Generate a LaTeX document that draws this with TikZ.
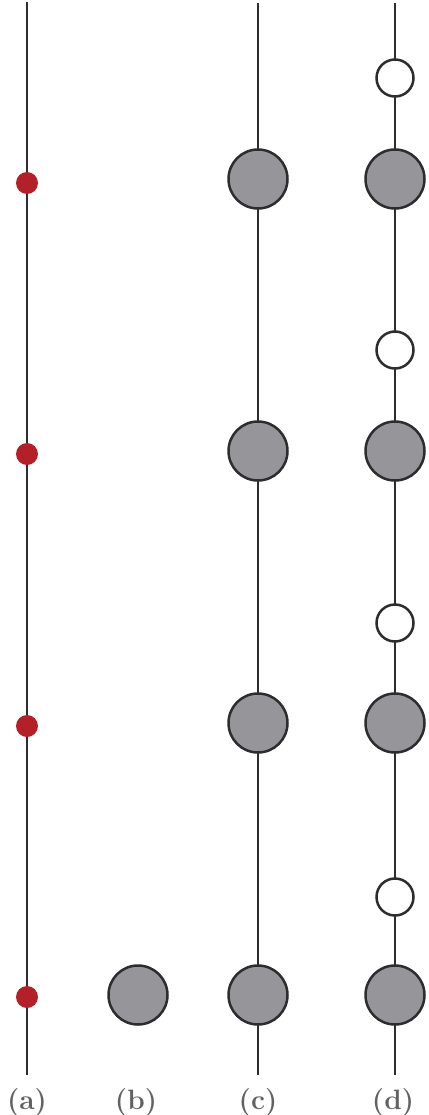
\documentclass[tikz,border=0pt]{standalone}
\usepackage{xcolor}
\usepackage{tikz}
\definecolor{beadgray}{RGB}{149,149,154}
\definecolor{beadred}{RGB}{180,32,40}
\definecolor{wire}{RGB}{45,45,48}
\tikzstyle{strand} = [line width=2.5pt, draw=wire]
\tikzstyle{bigbead} = [circle, minimum size=59pt, inner sep=0pt, fill=beadgray, draw=wire, line width=2.5pt]
\tikzstyle{smallbead} = [circle, minimum size=37pt, inner sep=0pt, fill=white, draw=wire, line width=2.5pt]
\tikzstyle{reddot} = [circle, minimum size=22pt, inner sep=0pt, fill=beadred]
\tikzstyle{caption} = [font=\fontsize{28}{32}\selectfont\bfseries, text=wire!75, inner sep=0pt]

\begin{document}
\begin{tikzpicture}[x=1pt, y=-1pt]
    \useasboundingbox (0,0) rectangle (428,1115);

    % strand ends
    \coordinate (atop) at (27,2);
    \coordinate (abot) at (27,1075);
    \coordinate (ctop) at (258,3);
    \coordinate (cbot) at (258,1075);
    \coordinate (dtop) at (395,3);
    \coordinate (dbot) at (395,1075);

    \draw [strand] (atop) -- (abot);
    \draw [strand] (ctop) -- (cbot);
    \draw [strand] (dtop) -- (dbot);

    % (a) red dots
    \foreach \i/\y in {1/183, 2/454, 3/726, 4/997}
        \node (a\i) [reddot] at (27,\y) {};

    % (b) single bead
    \node (b1) [bigbead] at (138,995) {};

    % (c) and (d) big beads
    \foreach \i/\y in {1/179, 2/451, 3/723, 4/995} {
        \node (c\i) [bigbead] at (258,\y) {};
        \node (d\i) [bigbead] at (395,\y) {};
    }

    % (d) small beads
    \foreach \i/\y in {1/78, 2/350, 3/623, 4/897}
        \node (e\i) [smallbead] at (395,\y) {};

    % captions
    \node (la) [caption] at (27,1102) {(a)};
    \node (lb) [caption] at (136,1102) {(b)};
    \node (lc) [caption] at (258,1102) {(c)};
    \node (ld) [caption] at (393,1102) {(d)};
\end{tikzpicture}
\end{document}
